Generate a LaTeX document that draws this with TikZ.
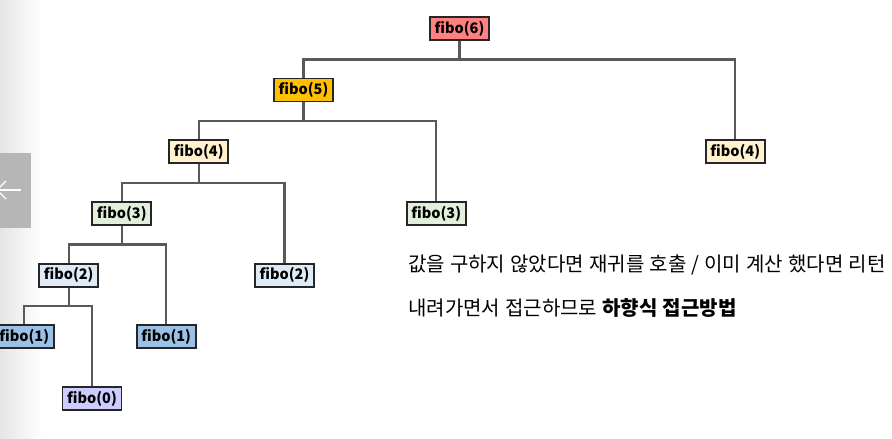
\documentclass[tikz,border=0pt]{standalone}
\usepackage{fontspec}
\usepackage{xcolor}
\usepackage{tikz}
\newfontfamily\krfont{Noto Sans CJK KR}
\newfontfamily\krnote{Noto Sans CJK KR}[WordSpace=1.15]
\definecolor{rootred}{RGB}{255,128,128}
\definecolor{gold5}{RGB}{255,192,0}
\definecolor{cream4}{RGB}{255,242,204}
\definecolor{mint3}{RGB}{226,239,218}
\definecolor{sky2}{RGB}{222,235,247}
\definecolor{blue1}{RGB}{155,194,230}
\definecolor{lilac0}{RGB}{204,204,255}
\definecolor{edgegray}{RGB}{89,89,89}
\definecolor{boxline}{RGB}{38,38,38}
\definecolor{panelgray}{RGB}{182,182,182}
\tikzset{
  callbox/.style={draw=boxline, line width=1.8pt, inner sep=0pt,
    minimum width=59pt, minimum height=23pt,
    font=\krfont\bfseries\fontsize{14.5}{15}\selectfont},
  link/.style={draw=edgegray, line width=2.2pt},
  note/.style={anchor=west, inner sep=0pt,
    font=\krnote\fontsize{20}{22}\selectfont}
}

\begin{document}
\begin{tikzpicture}[x=1pt,y=-1pt]
\useasboundingbox (0,0) rectangle (892,439);
\clip (0,0) rectangle (892,439);

% left edge of the slide viewer
\shade[left color=gray!20, right color=white] (0,0) rectangle (42,439);
\fill[panelgray] (0,153) rectangle (31,228);
\draw[white, line width=1.3pt] (-2,190) -- (21,190);
\draw[white, line width=1.3pt] (6,181) -- (-3,190) -- (6,199);

% call tree
\node[callbox, fill=rootred] (f6) at (459.5,28.5) {fibo(6)};
\node[callbox, fill=gold5] (f5) at (303.5,90) {fibo(5)};
\node[callbox, fill=cream4] (f4r) at (735.3,151.8) {fibo(4)};
\node[callbox, fill=cream4] (f4) at (198.8,151.8) {fibo(4)};
\node[callbox, fill=mint3] (f3r) at (436.3,213.5) {fibo(3)};
\node[callbox, fill=mint3] (f3) at (121.8,213.5) {fibo(3)};
\node[callbox, fill=sky2] (f2r) at (284.5,275.2) {fibo(2)};
\node[callbox, fill=sky2] (f2) at (68.7,275.2) {fibo(2)};
\node[callbox, fill=blue1] (f1m) at (166.2,336.8) {fibo(1)};
\node[callbox, fill=blue1] (f1) at (24.3,336.8) {fibo(1)};
\node[callbox, fill=lilac0] (f0) at (92,398.5) {fibo(0)};

\foreach \p/\c in {f6/f5, f6/f4r, f5/f4, f5/f3r, f4/f3, f4/f2r,
                   f3/f2, f3/f1m, f2/f1, f2/f0}
  \draw[link] (\p.south) -- ++(0pt,-18.5pt) -| (\c.north);

% notes
\node[note] (txt1) at (408,265) {값을 구하지 않았다면 재귀를 호출 / 이미 계산 했다면 리턴};
\node[note] (txt2) at (408,308) {내려가면서 접근하므로 \textbf{하향식 접근방법}};
\end{tikzpicture}
\end{document}
